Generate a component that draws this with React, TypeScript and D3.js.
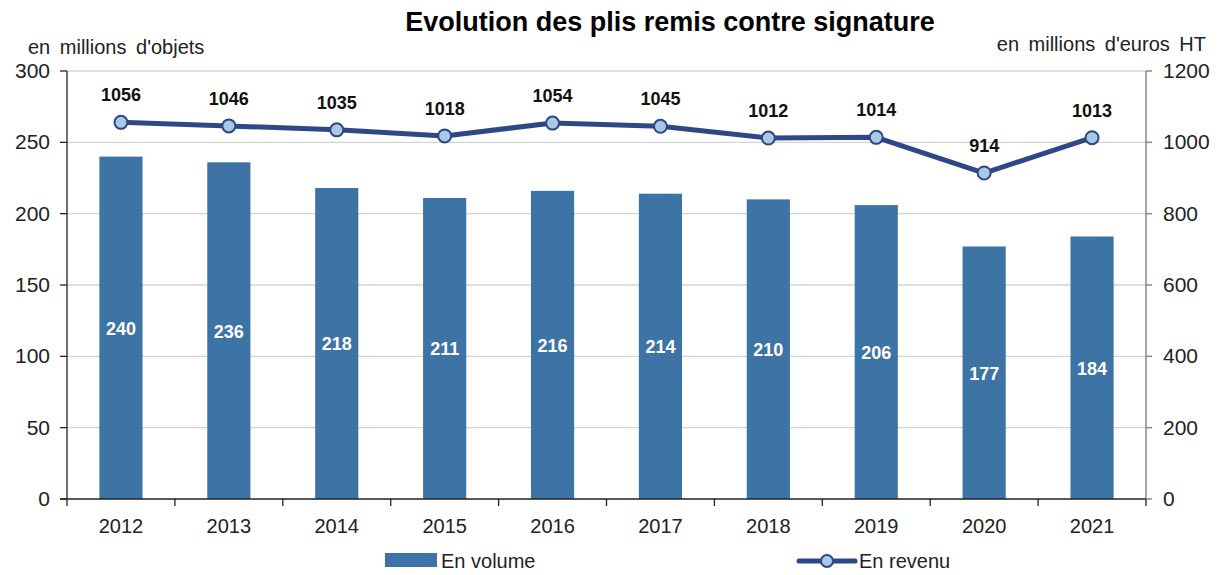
import React from 'react';
import * as d3 from 'd3';

const years = ['2012', '2013', '2014', '2015', '2016', '2017', '2018', '2019', '2020', '2021'];
const volume = [240, 236, 218, 211, 216, 214, 210, 206, 177, 184];
const revenue = [1056, 1046, 1035, 1018, 1054, 1045, 1012, 1014, 914, 1013];
const leftTicks = [0, 50, 100, 150, 200, 250, 300];
const rightTicks = [0, 200, 400, 600, 800, 1000, 1200];

const W = 1223;
const H = 575;
const left = 67;
const right = 1146;
const top = 71;
const bottom = 499;

const barColor = '#3E73A6';
const lineColor = '#2F4784';
const markerFill = '#A8C8E6';
const font = 'Liberation Sans, Arial, sans-serif';

const App = () => {
  const x = d3.scaleBand<string>().domain(years).range([left, right]).padding(0);
  const yL = d3.scaleLinear().domain([0, 300]).range([bottom, top]);
  const yR = d3.scaleLinear().domain([0, 1200]).range([bottom, top]);
  const barW = x.bandwidth() * 0.4;
  const cx = (y: string) => (x(y) as number) + x.bandwidth() / 2;

  const line = d3
    .line<number>()
    .x((_, i) => cx(years[i]))
    .y(v => yR(v));

  return (
    <svg width={W} height={H} style={{ position: 'absolute', left: 0, top: 0 }} fontFamily={font}>
      <rect width={W} height={H} fill="#fff" />
      <text x={670} y={31} textAnchor="middle" fontSize={27} fontWeight="bold" fill="#000">
        Evolution des plis remis contre signature
      </text>
      <text x={28} y={54} fontSize={20} fill="#222" style={{ wordSpacing: '4px' }}>
        en millions d'objets
      </text>
      <text x={1206} y={51} textAnchor="end" fontSize={20} fill="#222" style={{ wordSpacing: '4px' }}>
        en millions d'euros HT
      </text>

      {/* grid */}
      {leftTicks.filter(t => t > 0).map(t => (
        <line key={t} x1={left} x2={right} y1={yL(t)} y2={yL(t)} stroke="#d3d3d3" strokeWidth={1.3} />
      ))}

      {/* bars */}
      {volume.map((v, i) => (
        <g key={years[i]}>
          <rect x={cx(years[i]) - barW / 2} y={yL(v)} width={barW} height={bottom - yL(v)} fill={barColor} />
          <text
            x={cx(years[i])}
            y={(yL(v) + bottom) / 2 + 7}
            textAnchor="middle"
            fontSize={18}
            fontWeight="bold"
            fill="#fff"
          >
            {v}
          </text>
        </g>
      ))}

      {/* left axis */}
      <line x1={left} x2={left} y1={top} y2={bottom} stroke="#222" strokeWidth={1.3} />
      {leftTicks.map(t => (
        <g key={t}>
          <line x1={left - 7} x2={left} y1={yL(t)} y2={yL(t)} stroke="#222" strokeWidth={1.3} />
          <text x={50} y={yL(t) + 7} textAnchor="end" fontSize={21} fill="#222">
            {t}
          </text>
        </g>
      ))}

      {/* right axis */}
      <line x1={right} x2={right} y1={top} y2={bottom} stroke="#8a8a8a" strokeWidth={1.5} />
      {rightTicks.map(t => (
        <g key={t}>
          <line x1={right} x2={right + 6} y1={yR(t)} y2={yR(t)} stroke="#8a8a8a" strokeWidth={1.5} />
          <text x={1163} y={yR(t) + 7} fontSize={21} fill="#222">
            {t}
          </text>
        </g>
      ))}

      {/* bottom axis */}
      <line x1={left - 7} x2={right} y1={bottom} y2={bottom} stroke="#222" strokeWidth={1.3} />
      {years.map(y => (
        <g key={y}>
          <line x1={x(y)} x2={x(y)} y1={bottom} y2={bottom + 7} stroke="#222" strokeWidth={1.3} />
          <text x={cx(y)} y={533} textAnchor="middle" fontSize={20} fill="#222">
            {y}
          </text>
        </g>
      ))}
      <line x1={right} x2={right} y1={bottom} y2={bottom + 7} stroke="#222" strokeWidth={1.3} />

      {/* line */}
      <path d={line(revenue) ?? ''} fill="none" stroke={lineColor} strokeWidth={5} strokeLinejoin="round" />
      {revenue.map((v, i) => (
        <g key={years[i]}>
          <circle cx={cx(years[i])} cy={yR(v)} r={6.5} fill={markerFill} stroke={lineColor} strokeWidth={2} />
          <text x={cx(years[i])} y={yR(v) - 21} textAnchor="middle" fontSize={18} fontWeight="bold" fill="#111">
            {v}
          </text>
        </g>
      ))}

      {/* legend */}
      <rect x={385} y={553} width={52} height={14} fill={barColor} />
      <text x={441} y={568} fontSize={20} fill="#222">
        En volume
      </text>
      <line x1={799} x2={855} y1={561} y2={561} stroke={lineColor} strokeWidth={5} strokeLinecap="round" />
      <circle cx={827} cy={561} r={6} fill={markerFill} stroke={lineColor} strokeWidth={2} />
      <text x={859} y={568} fontSize={20} fill="#222">
        En revenu
      </text>
    </svg>
  );
};

export default App;
